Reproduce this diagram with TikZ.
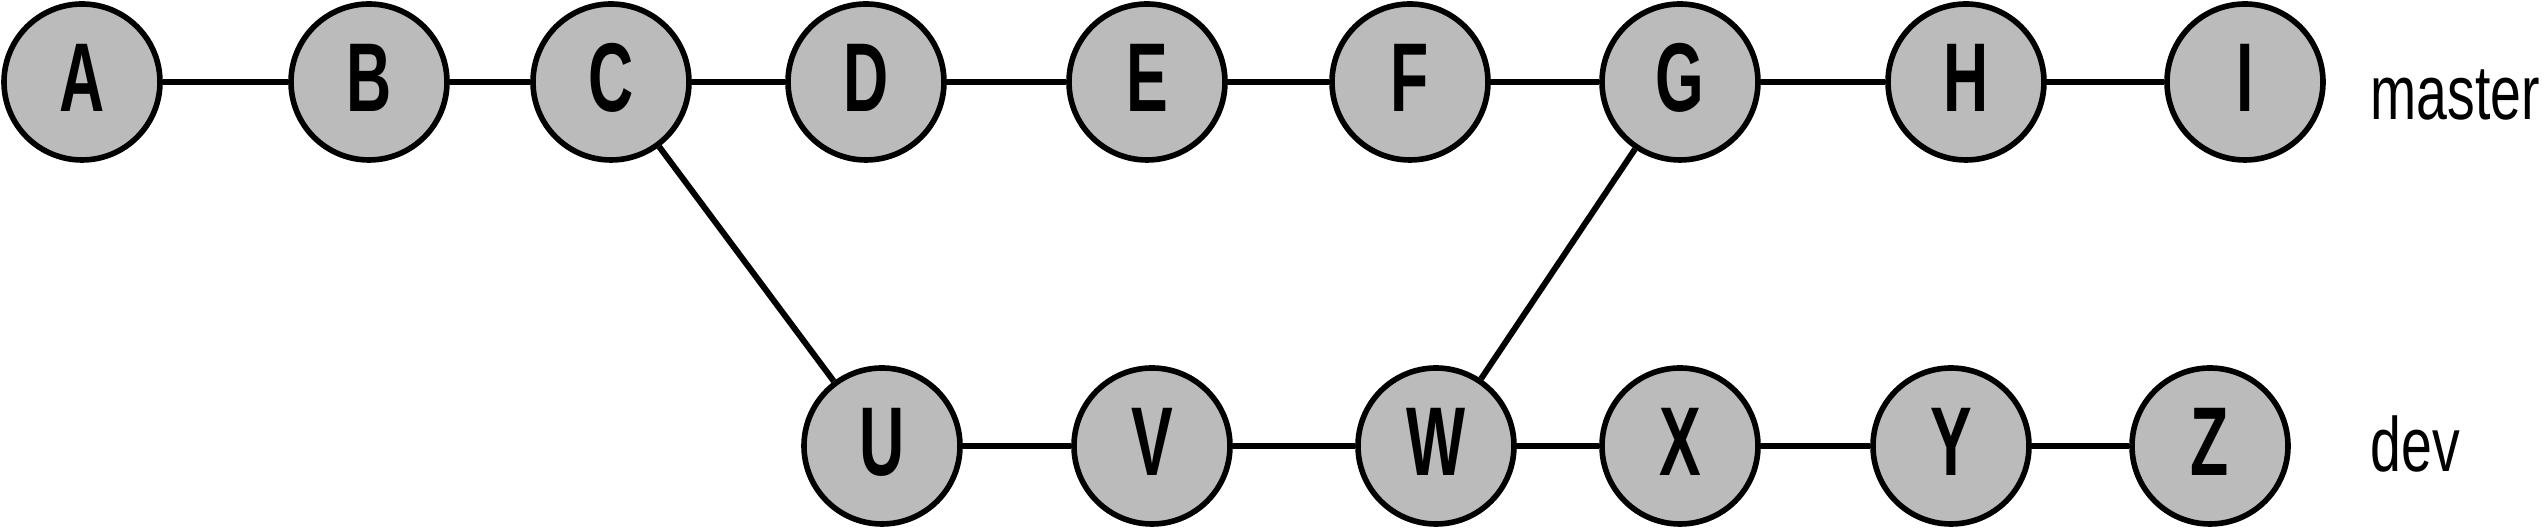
\documentclass[tikz,border=0pt]{standalone}
\usepackage{fontspec}
\setmainfont{Liberation Sans}
\newfontfamily\commitfont[FakeStretch=0.64]{Liberation Sans}
\newfontfamily\branchfont[FakeStretch=0.72]{Liberation Sans}
\definecolor{commitgray}{RGB}{187, 187, 187}
\usepackage{tikz}
\usetikzlibrary{positioning}

\begin{document}
\begin{tikzpicture}[x=0.1mm, y=-0.1mm,
		commit/.style={circle, draw=black, line width=1.6pt, fill=commitgray, minimum size=1.56cm, inner sep=0pt,
			text height=0.69cm, text depth=0.09cm, font=\commitfont\bfseries\fontsize{27.8pt}{30pt}\selectfont},
		branch/.style={anchor=base west, inner sep=0pt, font=\branchfont\fontsize{21.9pt}{24pt}\selectfont},
		link/.style={line width=1.7pt}]
			\useasboundingbox (0,0) rectangle (2548,529);
			\pgfmathsetmacro{\mastery}{82}
			\pgfmathsetmacro{\devy}{446}
			% Commits
			\foreach \c/\cx in {A/82, B/369, C/611, D/866, E/1147, F/1410, G/1680, H/1966, I/2245}
			{
				\node[commit] (\c) at (\cx,\mastery) {\c};
			}
			\foreach \c/\cx in {U/882, V/1152, W/1436, X/1680, Y/1951, Z/2210}
			{
				\node[commit] (\c) at (\cx,\devy) {\c};
			}
			% Branch names
			\node[branch] (master) at (2370,120) {master};
			\node[branch] (dev) at (2370,472) {dev};
			% History
			\foreach \a/\b in {A/B, B/C, C/D, D/E, E/F, F/G, G/H, H/I, U/V, V/W, W/X, X/Y, Y/Z, C/U, W/G}
			{
				\draw[link] (\a) -- (\b);
			}
			
		\end{tikzpicture}
\end{document}
